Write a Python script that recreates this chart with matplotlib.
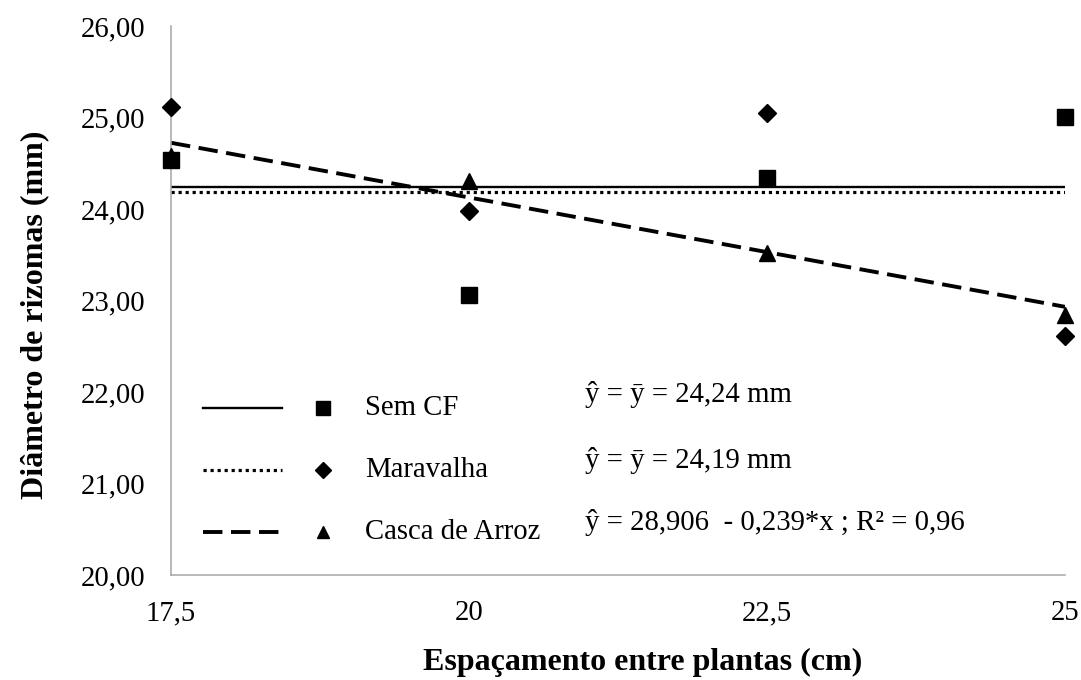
import matplotlib.pyplot as plt

plt.rcParams['font.family'] = ['Liberation Serif', 'DejaVu Serif']

# dados
espacamento = [17.5, 20, 22.5, 25]
sem_cf = [24.54, 23.06, 24.34, 25.01]
maravalha = [25.12, 23.98, 25.05, 22.61]
casca_arroz = [24.58, 24.31, 23.52, 22.84]

media_sem_cf = 24.24
media_maravalha = 24.19
coef_a, coef_b = 28.906, -0.239

xticks = [17.5, 20, 22.5, 25]
xtick_labels = ['17,5', '20', '22,5', '25']
yticks = [20, 21, 22, 23, 24, 25, 26]
ytick_labels = ['20,00', '21,00', '22,00', '23,00', '24,00', '25,00', '26,00']

nomes = ['Sem CF', 'Maravalha', 'Casca de Arroz']
equacoes = ['ŷ = ȳ = 24,24 mm', 'ŷ = ȳ = 24,19 mm',
            'ŷ = 28,906  - 0,239*x ; R² = 0,96']

fig = plt.figure(figsize=(10.81, 6.8), dpi=100)
ax = fig.add_axes([0.1582, 0.1544, 0.8270, 0.8074])

x0, x1 = espacamento[0], espacamento[-1]
estilo_media = dict(color='black', lw=1.7, ls='-')
estilo_mar = dict(color='black', lw=2.3, ls=(0, (1, 1.2)))
estilo_reg = dict(color='black', lw=2.8, ls=(0, (5, 2.2)))

ax.plot([x0, x1], [media_sem_cf, media_sem_cf], **estilo_media, zorder=2)
ax.plot([x0, x1], [media_maravalha, media_maravalha], **estilo_mar, zorder=2)
ax.plot([x0, x1], [coef_a + coef_b * x0, coef_a + coef_b * x1], **estilo_reg, zorder=2)

ax.plot(espacamento, casca_arroz, ls='none', marker='^', ms=11, color='black', zorder=3, clip_on=False)
ax.plot(espacamento, maravalha, ls='none', marker='D', ms=9, color='black', zorder=4, clip_on=False)
ax.plot(espacamento, sem_cf, ls='none', marker='s', ms=11.5, color='black', zorder=5, clip_on=False)

fs = 20.7
ax.set_xlim(17.5, 25)
ax.set_ylim(20, 26)
ax.set_xticks(xticks)
ax.set_xticklabels(xtick_labels)
ax.set_yticks(yticks)
ax.set_yticklabels(ytick_labels)
ax.tick_params(length=0, labelsize=fs)
ax.tick_params(axis='y', pad=18.5)
ax.tick_params(axis='x', pad=18)
for s in ['top', 'right']:
    ax.spines[s].set_visible(False)
for s in ['left', 'bottom']:
    ax.spines[s].set_color('#a6a6a6')
    ax.spines[s].set_linewidth(1.1)

ax.set_xlabel('Espaçamento entre plantas (cm)', fontsize=23, fontweight='bold')
ax.set_ylabel('Diâmetro de rizomas (mm)', fontsize=23, fontweight='bold')
ax.xaxis.set_label_coords(0.527, -0.133)
ax.yaxis.set_label_coords(-0.136, 0.474)

# legenda manual
estilos = [estilo_media, estilo_mar, estilo_reg]
marcadores = [('s', 11.5), ('D', 9), ('^', 11)]
linhas_y = [0.304, 0.191, 0.078]
eq_y = [0.328, 0.209, 0.095]
for i in range(3):
    yy = linhas_y[i]
    ax.plot([0.036, 0.124], [yy, yy], transform=ax.transAxes, **estilos[i])
    ax.plot([0.170], [yy], transform=ax.transAxes, ls='none',
            marker=marcadores[i][0], ms=marcadores[i][1] * 0.85, color='black')
    ax.text(0.217, yy, nomes[i], transform=ax.transAxes, fontsize=fs, va='center')
    ax.text(0.463, eq_y[i], equacoes[i], transform=ax.transAxes, fontsize=fs, va='center')

fig.savefig('out.png', dpi=100)
